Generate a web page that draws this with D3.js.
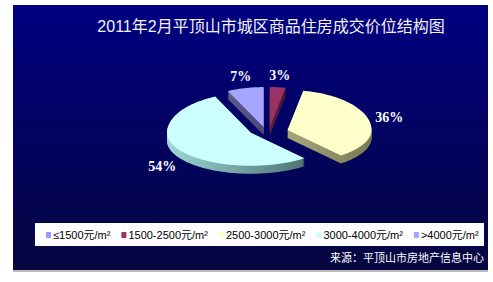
<!DOCTYPE html>
<html>
<head>
<meta charset="utf-8">
<script src="https://cdn.jsdelivr.net/npm/d3@7"></script>
<style>
  body { margin: 0; background: #fff; }
  text { font-family: "Liberation Sans", Arial, "Noto Sans CJK SC", sans-serif; }
</style>
</head>
<body>
<div id="chart"></div>
<script>
// price bands and share of deals (%)
var categories = ["≤1500元/m²", "1500-2500元/m²", "2500-3000元/m²", "3000-4000元/m²", ">4000元/m²"];
var shares = [0, 3, 36, 54, 7];
var colors = ["#9999ff", "#993366", "#ffffcc", "#ccffff", "#a6a6ff"];
var sideColors = ["#5c5c8c", "#5a1e3c", "#a6a67a", "#9ed6d6", "#5c5c8c"];
var sideDark = ["#4a4a78", "#4a1830", "#7a7a52", "#4f7474", "#4a4a78"];

var width = 493, height = 282;

var svg = d3.select("#chart").append("svg")
  .attr("width", width)
  .attr("height", height);

var defs = svg.append("defs");
var bg = defs.append("linearGradient").attr("id", "bg")
  .attr("x1", 0).attr("y1", 0).attr("x2", 0).attr("y2", 1);
bg.append("stop").attr("offset", "0%").attr("stop-color", "#000082");
bg.append("stop").attr("offset", "100%").attr("stop-color", "#05053f");

svg.append("rect")
  .attr("x", 13).attr("y", 5)
  .attr("width", 475).attr("height", 265)
  .attr("fill", "url(#bg)");
svg.append("rect")
  .attr("x", 13).attr("y", 270)
  .attr("width", 475).attr("height", 2)
  .attr("fill", "#bdbdbd");

// title
svg.append("text")
  .attr("x", 271).attr("y", 32)
  .attr("text-anchor", "middle")
  .attr("fill", "#f2f2f2")
  .style("font-size", "16px")
  .text("2011年2月平顶山市城区商品住房成交价位结构图");

// 3d pie geometry
var cx = 268, cy = 131,
  rx = 84, ryBack = 40, ryFront = 33,
  depth = 8, fx = 0.24, fy = 0.1;

function rimY(a) {
  var c = Math.cos(a);
  return -c * (c > 0 ? ryBack : ryFront);
}

var pie = d3.pie().sort(null).value(d => d)(shares);

var slices = pie.map(function(p, i) {
  var mid = (p.startAngle + p.endAngle) / 2;
  var ox = cx + fx * rx * Math.sin(mid),
    oy = cy + fy * rimY(mid);
  var pts = [[ox, oy]];
  var n = Math.max(2, Math.ceil((p.endAngle - p.startAngle) / 0.03));
  for (var k = 0; k <= n; k++) {
    var a = p.startAngle + (p.endAngle - p.startAngle) * k / n;
    pts.push([ox + rx * Math.sin(a), oy + rimY(a)]);
  }
  return { i: i, p: p, mid: mid, ox: ox, oy: oy, pts: pts };
}).filter(s => s.p.value > 0);

var line = d3.line().curve(d3.curveLinearClosed);

// side gradients, lighter on the left
slices.forEach(function(s) {
  var xs = s.pts.map(d => d[0]);
  var g = defs.append("linearGradient").attr("id", "side" + s.i)
    .attr("gradientUnits", "userSpaceOnUse")
    .attr("x1", d3.min(xs)).attr("y1", 0)
    .attr("x2", d3.max(xs)).attr("y2", 0);
  g.append("stop").attr("offset", "0%").attr("stop-color", sideColors[s.i]);
  g.append("stop").attr("offset", "100%").attr("stop-color", sideDark[s.i]);
});

var pieG = svg.append("g");

// walls: stacked copies of the top face
slices.forEach(function(s) {
  d3.range(depth, 0, -1).forEach(function(dy) {
    pieG.append("path")
      .attr("d", line(s.pts))
      .attr("transform", "translate(0," + dy + ")")
      .attr("fill", "url(#side" + s.i + ")");
  });
});

slices.forEach(function(s) {
  pieG.append("path")
    .attr("d", line(s.pts))
    .attr("fill", colors[s.i]);
});

// data labels
slices.forEach(function(s) {
  var c = Math.cos(s.mid);
  var lx = s.ox + 1.25 * rx * Math.sin(s.mid);
  var ly = s.oy - 1.3 * (c > 0 ? ryBack : ryFront) * c + (c < 0 ? depth + 3 : 0);
  svg.append("text")
    .attr("x", lx).attr("y", ly)
    .attr("text-anchor", "middle")
    .attr("dominant-baseline", "central")
    .attr("fill", "#ffffff")
    .style("font-family", "'Liberation Serif', 'Times New Roman', serif")
    .style("font-weight", "bold")
    .style("font-size", "14px")
    .text(Math.round(s.p.value) + "%");
});

// legend
svg.append("rect")
  .attr("x", 35).attr("y", 223)
  .attr("width", 449).attr("height", 23)
  .attr("fill", "#ffffff");

var lx = 46;
categories.forEach(function(c, i) {
  svg.append("rect")
    .attr("x", lx).attr("y", 232)
    .attr("width", 5).attr("height", 6)
    .attr("fill", colors[i]);
  var t = svg.append("text")
    .attr("x", lx + 7).attr("y", 239)
    .attr("fill", "#000")
    .style("font-size", "11px")
    .text(c);
  lx += 7 + t.node().getComputedTextLength() + 11;
});

// source note
svg.append("text")
  .attr("x", 484).attr("y", 262)
  .attr("text-anchor", "end")
  .attr("fill", "#ffffff")
  .style("font-size", "11px")
  .text("来源：平顶山市房地产信息中心");
</script>
</body>
</html>
